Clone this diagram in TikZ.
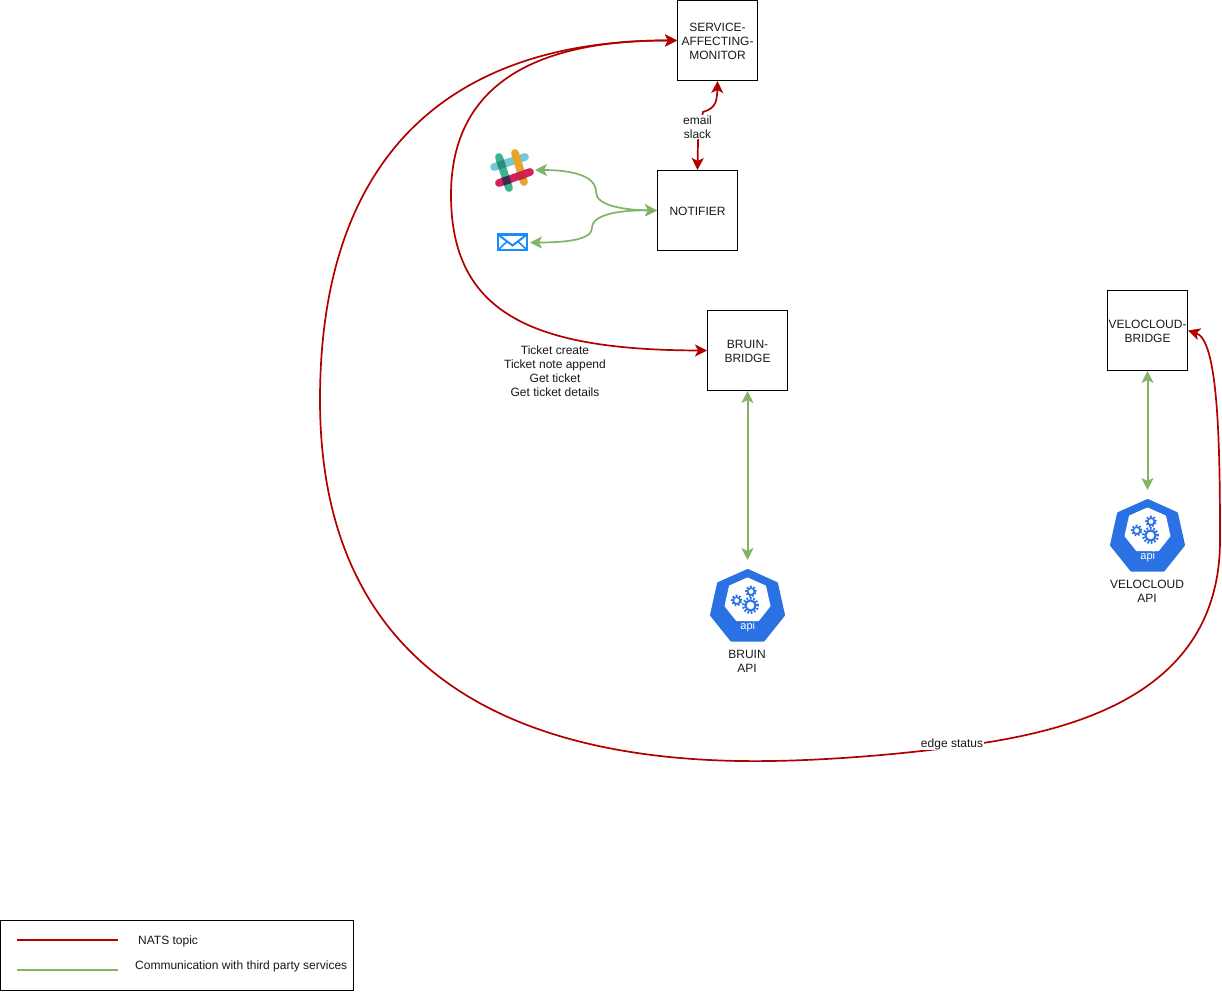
\documentclass[tikz,border=0pt]{standalone}
\usepackage{fontspec}
\setmainfont{Liberation Sans}
\usetikzlibrary{arrows.meta,calc}
\definecolor{natsred}{HTML}{B20000}
\definecolor{thirdgreen}{HTML}{82B366}
\definecolor{apiblue}{HTML}{2A71E4}
\definecolor{mailblue}{HTML}{1A8CFF}
\definecolor{slackteal}{HTML}{70CAD6}
\definecolor{slackgreen}{HTML}{3DB48C}
\definecolor{slackyellow}{HTML}{E4A52E}
\definecolor{slackpink}{HTML}{D4205E}
\definecolor{slackdarkteal}{HTML}{2A8F7A}
\definecolor{slackdark}{HTML}{43274F}
\definecolor{slackred}{HTML}{C8283F}
\tikzset{
  every node/.style={font=\fontsize{12}{14}\selectfont, align=center, text=black!90, inner sep=0pt},
  service/.style={draw=black, line width=1pt, minimum width=80pt, minimum height=80pt},
  nats/.style={draw=natsred, line width=1.7pt, >={Stealth[length=12pt, width=12pt, inset=3pt]}, <->},
  third/.style={draw=thirdgreen, line width=1.7pt, >={Stealth[length=12pt, width=12pt, inset=3pt]}, <->},
  plainlabel/.style={fill=white, inner xsep=1pt, inner ysep=0pt},
  gearteeth/.style={draw=apiblue, dash pattern=on 1.7pt off 1.7pt},
  apiicon/.pic={
    \fill[apiblue, draw=apiblue, line width=3pt, line join=round]
      (0.2,-34.5) -- (29,-21.5) -- (36,10) -- (16,35) -- (-16,35) -- (-36,10) -- (-29,-21.5) -- cycle;
    \fill[white, draw=white, line width=1pt, line join=round]
      (0,-27) -- (18,-19) -- (22.5,1) -- (11,15.5) -- (-11,15.5) -- (-22.5,1) -- (-18,-19) -- cycle;
    \draw[apiblue, line width=2pt] (3,0.5) circle (5pt);
    \draw[gearteeth, line width=2.6pt] (3,0.5) circle (7.2pt);
    \draw[apiblue, line width=1.6pt] (3.5,-13.5) circle (3.4pt);
    \draw[gearteeth, line width=2pt] (3.5,-13.5) circle (4.9pt);
    \draw[apiblue, line width=1.6pt] (-10.8,-4.5) circle (3.4pt);
    \draw[gearteeth, line width=2pt] (-10.8,-4.5) circle (4.9pt);
    \node[text=white, font=\fontsize{11}{13}\selectfont] at (0.3,22) {api};
  }
}
\newcommand{\slackspot}[2]{\draw[#1, line width=7.8pt, line cap=butt] ($#2+(-3.7,1.2)$) -- ($#2+(3.7,-1.2)$);}
\begin{document}
\begin{tikzpicture}[x=1pt, y=-1pt]
\useasboundingbox (0,0) rectangle (1222,991);
\fill[white] (0,0) rectangle (1222,991);

% services
\node[service] (sam) at (717.5,40.5) {};
\node[service] (notifier) at (697.5,210.5) {};
\node[service] (bruin) at (747.5,350.5) {};
\node[service] (velo) at (1147.5,330.5) {};
\node (samtext) at (717.5,41.5) {SERVICE-\\AFFECTING-\\MONITOR};
\node (notifiertext) at (697.5,211.5) {NOTIFIER};
\node (bruintext) at (747.5,351.5) {BRUIN-\\BRIDGE};
\node (velotext) at (1147.5,331.5) {VELOCLOUD-\\BRIDGE};

% free ends
\coordinate (slackport) at (535,170);
\coordinate (mailport) at (530,242.5);
\coordinate (bruinport) at (747.5,560);
\coordinate (veloport) at (1147.5,490);

% icons
\pic at (747.5,605) {apiicon};
\pic at (1147.5,535) {apiicon};
\node (bruinapi) at (747,661) {BRUIN\\API};
\node (veloapi) at (1147,591) {VELOCLOUD\\API};

% slack
\draw[line width=7.8pt, line cap=round, color=slackteal] (494,167) -- (525,157);
\draw[line width=7.8pt, line cap=round, color=slackgreen] (499,157) -- (509,188);
\draw[line width=7.8pt, line cap=round, color=slackyellow] (515,153) -- (524,182);
\draw[line width=7.8pt, line cap=round, color=slackpink] (499,183) -- (530,172);
\slackspot{slackdarkteal}{(501.4,164.6)}
\slackspot{slackdark}{(506.5,180.5)}
\slackspot{slackred}{(521.5,175.5)}

% mail
\draw[mailblue, line width=2.2pt, line join=miter] (498,234.5) rectangle (527,250);
\draw[mailblue, line width=2pt] (498,234.5) -- (512.5,245.5) -- (527,234.5);
\draw[mailblue, line width=1.6pt] (498,250) -- (507,241.5);
\draw[mailblue, line width=1.6pt] (527,250) -- (518,241.5);

% NATS connectors
\draw[nats] (sam.west) .. controls (450,40) and (320,155) .. (320,400)
  .. controls (320,658) and (495,765) .. (770,761)
  .. controls (840,760) and (920,752.5) .. (983,743)
  .. controls (1100,725) and (1220,680) .. (1220,540)
  .. controls (1220,440) and (1218,340) .. (velo.east);
\draw[nats] (sam.west) .. controls (520,40) and (451,95) .. (451,195)
  .. controls (451,315) and (535,350) .. (bruin.west);
\draw[nats] (notifier.north) -- (698,141) -- (703,112)
  .. controls (714,108.5) and (717,104) .. (sam.south);

% third party connectors
\draw[third] (slackport) .. controls (570,170) and (596,175) .. (596,192)
  .. controls (596,206) and (625,210) .. (notifier.west);
\draw[third] (mailport) .. controls (565,242.5) and (592,240) .. (592,228)
  .. controls (592,213) and (625,210) .. (notifier.west);
\draw[third, line width=2pt] (bruin.south) -- (bruinport);
\draw[third, line width=2pt] (velo.south) -- (veloport);

% labels
\node[plainlabel] (edgelabel) at (952,744.5) {edge status};
\node[plainlabel, inner ysep=1pt] (maillabel) at (697.5,127) {email\\slack};
\node (ticketlabel) at (555,371) {Ticket create\\Ticket note append\\Get ticket\\Get ticket details};

% legend
\node[draw=black, line width=1pt, minimum width=353pt, minimum height=70pt] (legend) at (177,955.5) {};
\coordinate (redstart) at (17,940);
\coordinate (redend) at (117.5,940);
\coordinate (greenstart) at (17,970);
\coordinate (greenend) at (117.5,970);
\draw[natsred, line width=1.7pt] (redstart) -- (redend);
\draw[thirdgreen, line width=1.7pt] (greenstart) -- (greenend);
\node[anchor=west] (natstext) at (138,941.7) {NATS topic};
\node[anchor=west] (thirdtext) at (135,966.7) {Communication with third party services};
\end{tikzpicture}
\end{document}
